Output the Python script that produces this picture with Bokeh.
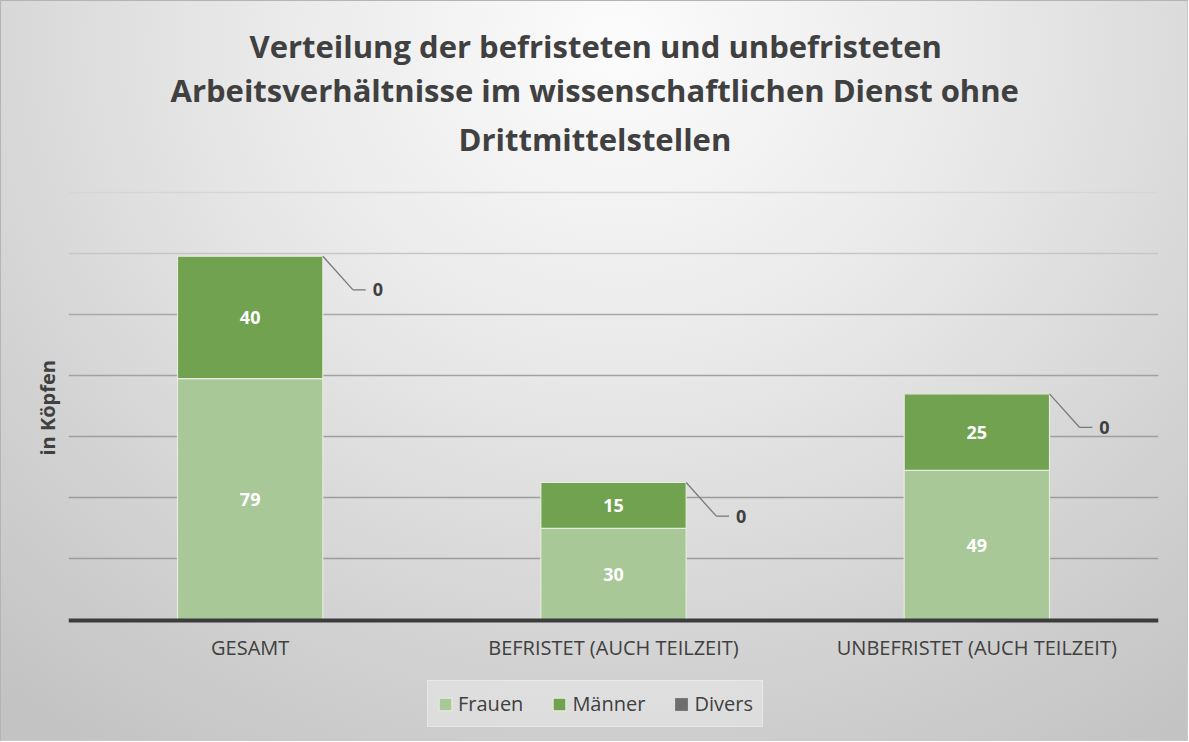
from bokeh.plotting import figure
from bokeh.models import (ColumnDataSource, FactorRange, Range1d, Legend, LegendItem,
                          Title)
from bokeh.transform import dodge
from bokeh.core.properties import value
from bokeh.embed import file_html
from bokeh.resources import INLINE

# ---- data ----
categories = ["GESAMT", "BEFRISTET (AUCH TEILZEIT)", "UNBEFRISTET (AUCH TEILZEIT)"]
frauen = [79, 30, 49]
maenner = [40, 15, 25]
divers = [0, 0, 0]
title_lines = ["Verteilung der befristeten und unbefristeten",
               "Arbeitsverhältnisse im wissenschaftlichen Dienst ohne",
               "Drittmittelstellen"]
y_label = "in Köpfen"
grid_ticks = [20, 40, 60, 80, 100, 120, 140]
grid_colors = ["#9c9c9c", "#9c9c9c", "#9e9e9e", "#a2a2a2", "#a8a8a8", "#c6c6c6", "#d6d6d6"]

FONT = "Open Sans"
TXT = "#404040"
C_FRAUEN = "#a9c898"
C_MAENNER = "#70a250"
C_DIVERS = "#6e6e6e"

f_top = frauen
m_top = [f + m for f, m in zip(frauen, maenner)]
d_top = [t + d for t, d in zip(m_top, divers)]
drop = 11
src = ColumnDataSource(dict(
    cat=categories,
    f_bottom=[0] * len(categories), f_top=f_top,
    m_bottom=f_top, m_top=m_top,
    d_bottom=m_top, d_top=d_top,
    f_mid=[f / 2 for f in frauen],
    m_mid=[f + m / 2 for f, m in zip(frauen, maenner)],
    f_lbl=[str(v) for v in frauen],
    m_lbl=[str(v) for v in maenner],
    d_lbl=[str(v) for v in divers],
    lead_y=[t - drop for t in d_top],
))
grid_src = ColumnDataSource(dict(y=grid_ticks, color=grid_colors))

# frame spans down to the bottom of the canvas so that the legend below the
# category axis is drawn inside it; the value axis keeps 0..140 in place
p = figure(width=1188, height=741, x_range=FactorRange(*categories),
           y_range=Range1d(-39.7, 149), output_backend="svg", toolbar_location=None,
           title=None, min_border_left=68, min_border_right=30,
           min_border_top=164, min_border_bottom=0)
p.styles = {"background": "radial-gradient(ellipse 80% 115% at 52% 6%, #fcfcfc 0%, #e9e9e9 38%, #d3d3d3 72%, #c3c3c3 100%)",
            "box-shadow": "inset 1px 1px 0 0 #b4b4b4, inset -1px -1px 0 0 #c8c8c8"}
p.border_fill_color = None
p.background_fill_color = None
p.outline_line_color = None

# titles (closest to frame first); left-aligned with offsets so that the
# block is centred on the whole chart rather than on the plot frame
title_offsets = [181, 102, 390]
standoffs = [0, 0, 10]
for line, off, so in reversed(list(zip(title_lines, title_offsets, standoffs))):
    t = Title(text=line, align="left", offset=off, standoff=so,
              text_font=FONT, text_font_size="31px", text_font_style="bold",
              text_color=TXT)
    p.add_layout(t, "above")

# value-axis title
p.yaxis.visible = False
p.add_layout(Title(text=y_label, align="left", offset=286, standoff=16,
                   text_font=FONT, text_font_size="20px", text_font_style="bold",
                   text_color=TXT), "left")

# grid lines
p.xgrid.grid_line_color = None
p.ygrid.grid_line_color = None
p.hspan(y="y", source=grid_src, line_color="color", line_width=1.6)

# bars
w = 0.4
r_f = p.vbar(x="cat", bottom="f_bottom", top="f_top", width=w, source=src,
             fill_color=C_FRAUEN, line_color="#e4ecdd", line_width=1.2)
r_m = p.vbar(x="cat", bottom="m_bottom", top="m_top", width=w, source=src,
             fill_color=C_MAENNER, line_color="#e4ecdd", line_width=1.2)
r_d = p.vbar(x="cat", bottom="d_bottom", top="d_top", width=w, source=src,
             fill_color=C_DIVERS, line_color=None)

# data labels
for ycol, tcol in (("f_mid", "f_lbl"), ("m_mid", "m_lbl")):
    p.text(x="cat", y=ycol, text=tcol, source=src, text_align="center",
           text_baseline="middle", text_color="white", text_font=value(FONT),
           text_font_size="18px", text_font_style="bold")

# leader lines for Divers labels
dx1 = 0.083
dx2 = 0.118
p.segment(x0=dodge("cat", w / 2, range=p.x_range), y0="d_top",
          x1=dodge("cat", w / 2 + dx1, range=p.x_range), y1="lead_y",
          source=src, line_color="#7a7a7a", line_width=1.3)
p.segment(x0=dodge("cat", w / 2 + dx1, range=p.x_range), y0="lead_y",
          x1=dodge("cat", w / 2 + dx2, range=p.x_range), y1="lead_y",
          source=src, line_color="#7a7a7a", line_width=1.3)
p.text(x=dodge("cat", w / 2 + dx2, range=p.x_range), y="lead_y", text="d_lbl",
       source=src, x_offset=7, text_align="left", text_baseline="middle",
       text_color=TXT, text_font=value(FONT), text_font_size="18px",
       text_font_style="bold")

# category axis, pinned at value 0
xa = p.xaxis[0]
xa.fixed_location = 0
xa.axis_line_color = "#3c3c3c"
xa.axis_line_width = 4
xa.major_tick_line_color = None
xa.minor_tick_line_color = None
xa.major_tick_out = 0
xa.major_tick_in = 0
xa.major_label_standoff = 14
xa.major_label_text_font = FONT
xa.major_label_text_font_size = "20px"
xa.major_label_text_color = TXT

# legend (a faint border keeps the padding active)
legend = Legend(items=[LegendItem(label="Frauen", renderers=[r_f]),
                       LegendItem(label="Männer", renderers=[r_m]),
                       LegendItem(label="Divers", renderers=[r_d])],
                orientation="horizontal", location=(359, 14),
                label_text_font=FONT, label_text_font_size="20px",
                label_text_color=TXT, glyph_width=16, glyph_height=16,
                spacing=28, padding=9, margin=0, label_standoff=5,
                border_line_color="white", border_line_alpha=0.3,
                border_line_width=1, background_fill_color="white",
                background_fill_alpha=0.3)
p.add_layout(legend, "center")

open("out.html", "w").write(file_html(p, INLINE))
